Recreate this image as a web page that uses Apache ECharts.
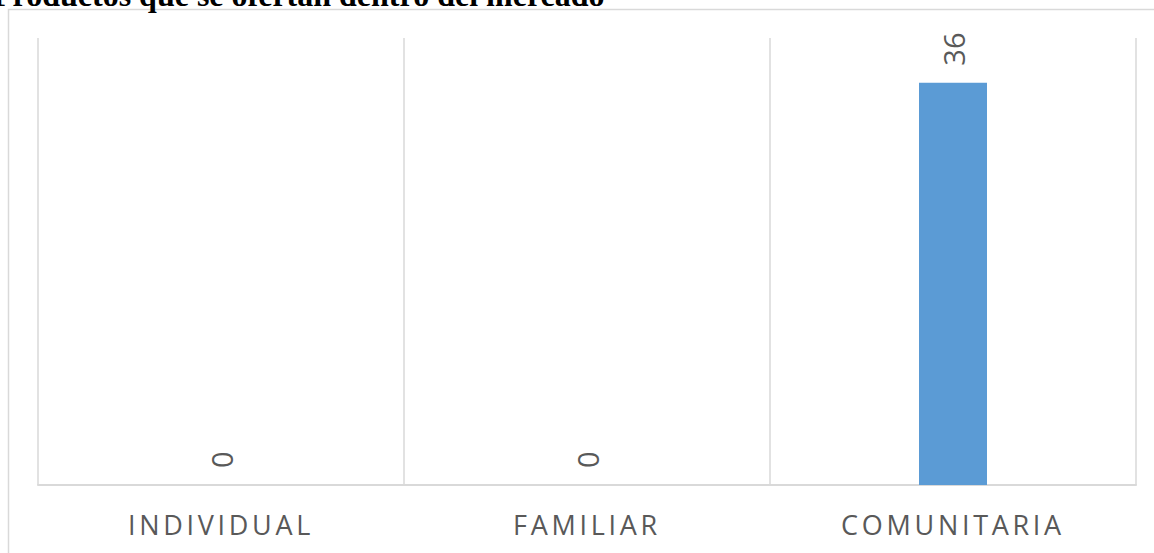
<!DOCTYPE html>
<html>
<head>
<meta charset="utf-8">
<script src="https://cdn.jsdelivr.net/npm/echarts@6/dist/echarts.min.js"></script>
<style>
    html, body { margin: 0; padding: 0; background: #fff; }
    #main { width: 1154px; height: 553px; }
    /* separación de letras de las categorías, como en el original */
    #main text[fill="#595959"][text-anchor="middle"] { letter-spacing: 3.7px; }
</style>
</head>
<body>
<div id="main"></div>
<script>
// datos del gráfico
const titulo = 'Productos que se ofertan dentro del mercado';
const categorias = ['INDIVIDUAL', 'FAMILIAR', 'COMUNITARIA'];
const valores = [0, 0, 36];

const myChart = echarts.init(document.getElementById('main'), null, { renderer: 'svg' });
myChart.setOption({
    animation: false,
    title: {
        text: titulo,
        left: -12,
        top: -26,
        textStyle: {
            fontFamily: 'Liberation Serif',
            fontWeight: 'bold',
            fontSize: 32,
            color: '#000'
        }
    },
    // marco gris del área del gráfico
    graphic: [{
        type: 'rect',
        silent: true,
        shape: { x: 8.5, y: 9.5, width: 1300, height: 700 },
        style: { fill: 'none', stroke: '#d9d9d9', lineWidth: 1.5 }
    }],
    grid: {
        left: 38,
        right: 18,
        top: 38,
        bottom: 68,
        containLabel: false
    },
    xAxis: {
        type: 'category',
        data: categorias,
        axisLine: { show: true, lineStyle: { color: '#d9d9d9', width: 2 } },
        axisTick: { show: false },
        splitLine: { show: true, lineStyle: { color: '#d9d9d9', width: 1.5 } },
        axisLabel: {
            margin: 26,
            color: '#595959',
            fontFamily: 'Open Sans',
            fontSize: 27
        }
    },
    yAxis: {
        type: 'value',
        min: 0,
        max: 40,
        show: false,
        splitLine: { show: false }
    },
    series: [{
        type: 'bar',
        data: valores,
        barWidth: 68,
        itemStyle: { color: '#5b9bd5' },
        label: {
            show: true,
            position: 'top',
            distance: 17,
            rotate: 90,
            align: 'left',
            verticalAlign: 'middle',
            color: '#595959',
            fontFamily: 'Open Sans',
            fontSize: 29
        }
    }]
});
</script>
</body>
</html>
